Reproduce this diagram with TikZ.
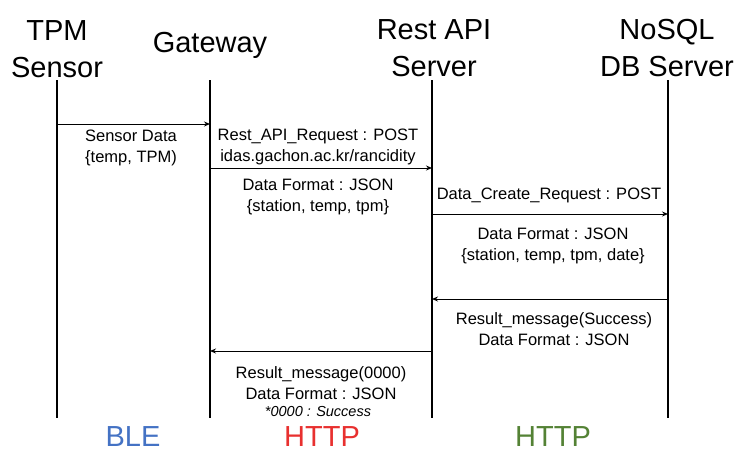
\documentclass[tikz,border=0pt]{standalone}
\usepackage{fontspec}
\setmainfont{Liberation Sans}
\usetikzlibrary{arrows.meta}
\definecolor{bleblue}{HTML}{4472C4}
\definecolor{httpred}{HTML}{E8302F}
\definecolor{httpgreen}{HTML}{548235}
\begin{document}
\begin{tikzpicture}[x=1pt,y=-1pt,
  title/.style={align=center,inner sep=0pt,font=\fontsize{29}{37}\selectfont},
  lbl/.style={align=center,inner sep=0pt,font=\fontsize{16.5}{20.5}\selectfont},
  proto/.style={inner sep=0pt,font=\fontsize{29}{34}\selectfont},
  life/.style={line width=2pt},
  msg/.style={line width=1pt,-{Stealth[length=6pt,width=5pt]}}]
\useasboundingbox (0,0) rectangle (741,453);
% titles
\node[title] (tpm) at (57,49) {TPM\\Sensor};
\node[title] (gw) at (210,45) {Gateway};
\node[title] (rest) at (434,48) {Rest API\\Server};
\node[title] (nosql) at (667,48) {NoSQL\\DB Server};
% lifelines
\coordinate (s1) at (57,80);  \coordinate (s2) at (57,418);
\coordinate (g1) at (210,80); \coordinate (g2) at (210,418);
\coordinate (r1) at (432,80); \coordinate (r2) at (432,418);
\coordinate (n1) at (668,80); \coordinate (n2) at (668,418);
\draw[life] (s1) -- (s2);
\draw[life] (g1) -- (g2);
\draw[life] (r1) -- (r2);
\draw[life] (n1) -- (n2);
% message endpoints
\coordinate (m1a) at (57,124);  \coordinate (m1b) at (210,124);
\coordinate (m2a) at (210,168); \coordinate (m2b) at (432,168);
\coordinate (m3a) at (432,214); \coordinate (m3b) at (668,214);
\coordinate (m4a) at (668,299); \coordinate (m4b) at (432,299);
\coordinate (m5a) at (432,351); \coordinate (m5b) at (210,351);
\draw[msg] (m1a) -- (m1b);
\draw[msg] (m2a) -- (m2b);
\draw[msg] (m3a) -- (m3b);
\draw[msg] (m4a) -- (m4b);
\draw[msg] (m5a) -- (m5b);
% labels
\node[lbl] (l1) at (131,148) {Sensor Data\\\{temp, TPM)};
\node[lbl] (l2) at (318,147) {Rest\_API\_Request : POST\\idas.gachon.ac.kr/rancidity};
\node[lbl] (l3) at (318,197) {Data Format : JSON\\\{station, temp, tpm\}};
\node[lbl] (l4) at (549,195) {Data\_Create\_Request : POST};
\node[lbl] (l5) at (553,246) {Data Format : JSON\\\{station, temp, tpm, date\}};
\node[lbl] (l6) at (554,329) {Result\_message(Success)\\Data Format : JSON};
\node[lbl] (l7) at (321,383) {Result\_message(0000)\\Data Format : JSON};
\node[inner sep=0pt,font=\fontsize{14.5}{16}\selectfont\itshape] (l8) at (318,411) {*0000 : Success};
% protocols
\node[proto,text=bleblue] (ble) at (133,437) {BLE};
\node[proto,text=httpred] (h1) at (322,437) {HTTP};
\node[proto,text=httpgreen] (h2) at (553,437) {HTTP};
\end{tikzpicture}
\end{document}
